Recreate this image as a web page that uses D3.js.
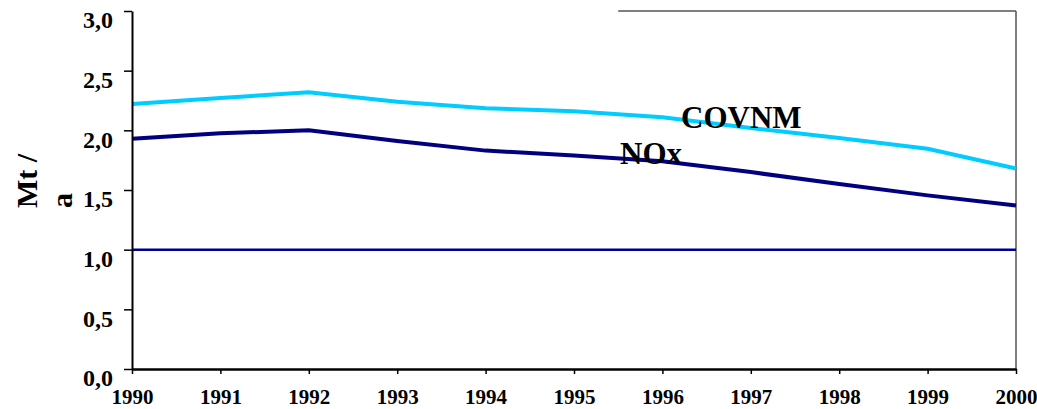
<!DOCTYPE html>
<html>
<head>
<meta charset="utf-8">
<script src="https://cdn.jsdelivr.net/npm/d3@7"></script>
<style>
  body { margin: 0; background: #fff; }
  svg text { font-family: "Liberation Serif", "Times New Roman", serif; font-weight: bold; }
</style>
</head>
<body>
<svg id="chart"></svg>
<script>
const years = [1990, 1991, 1992, 1993, 1994, 1995, 1996, 1997, 1998, 1999, 2000];
const covnm = [2.22, 2.27, 2.32, 2.24, 2.185, 2.16, 2.11, 2.02, 1.935, 1.845, 1.68];
const nox   = [1.93, 1.975, 2.0, 1.91, 1.83, 1.79, 1.74, 1.65, 1.55, 1.455, 1.37];
const reference = [1.0, 1.0, 1.0, 1.0, 1.0, 1.0, 1.0, 1.0, 1.0, 1.0, 1.0];
const yTicks = [0, 0.5, 1.0, 1.5, 2.0, 2.5, 3.0];

const W = 1037, H = 409;
const margin = {top: 11, right: 21, bottom: 40, left: 132};
const width = W - margin.left - margin.right,
      height = H - margin.top - margin.bottom;

const svg = d3.select("#chart")
    .attr("width", W)
    .attr("height", H)
  .append("g")
    .attr("transform", `translate(${margin.left},${margin.top})`);

const x = d3.scaleLinear()
    .domain([1990, 2000])
    .range([0, width]);

const y = d3.scaleLinear()
    .domain([0, 3])
    .range([height, 0]);

const fmt = d => d3.format(".1f")(d).replace(".", ",");

// plot frame (top and right, grey)
svg.append("line")
    .attr("x1", x(1995.5)).attr("x2", width)
    .attr("y1", 0).attr("y2", 0)
    .attr("stroke", "#555").attr("stroke-width", 1.5);
svg.append("line")
    .attr("x1", width).attr("x2", width)
    .attr("y1", 0).attr("y2", height)
    .attr("stroke", "#555").attr("stroke-width", 1.5);

const line = d3.line()
    .x((d, i) => x(years[i]))
    .y(d => y(d));

svg.append("path")
    .datum(reference)
    .attr("fill", "none")
    .attr("stroke", "#000090")
    .attr("stroke-width", 2.5)
    .attr("d", line);

svg.append("path")
    .datum(covnm)
    .attr("fill", "none")
    .attr("stroke", "#00CCFF")
    .attr("stroke-width", 4)
    .attr("d", line);

svg.append("path")
    .datum(nox)
    .attr("fill", "none")
    .attr("stroke", "#000080")
    .attr("stroke-width", 4)
    .attr("d", line);

// Y Axis
const yAxis = svg.append("g")
    .call(d3.axisLeft(y).tickValues(yTicks).tickFormat(fmt).tickSizeInner(8).tickSizeOuter(0).tickPadding(11));
yAxis.select(".domain").attr("stroke-width", 2);
yAxis.selectAll(".tick line").attr("stroke-width", 1.5);
yAxis.selectAll("text")
    .attr("font-size", 24)
    .attr("dy", "0.7em")
    .attr("fill", "#000");

// X Axis
const xAxis = svg.append("g")
    .attr("transform", `translate(0,${height})`)
    .call(d3.axisBottom(x).tickValues(years).tickFormat(d3.format("d")).tickSizeInner(5).tickSizeOuter(0));
xAxis.select(".domain").attr("stroke-width", 2.5);
xAxis.selectAll(".tick line").attr("stroke-width", 1.5);
xAxis.selectAll("text")
    .attr("font-size", 21)
    .attr("y", 35)
    .attr("dy", 0)
    .attr("fill", "#000");

// Y title, two lines
const ytitle = d3.select("#chart").append("g")
    .attr("transform", "translate(37,208) rotate(-90)");
ytitle.append("text")
    .attr("font-size", 30)
    .text("Mt /");
ytitle.append("text")
    .attr("y", 35)
    .attr("font-size", 30)
    .text("a");

// series labels
d3.select("#chart").append("text")
    .attr("x", 681).attr("y", 128)
    .attr("font-size", 31)
    .text("COVNM");
d3.select("#chart").append("text")
    .attr("x", 620).attr("y", 164)
    .attr("font-size", 31)
    .text("NOx");
</script>
</body>
</html>
